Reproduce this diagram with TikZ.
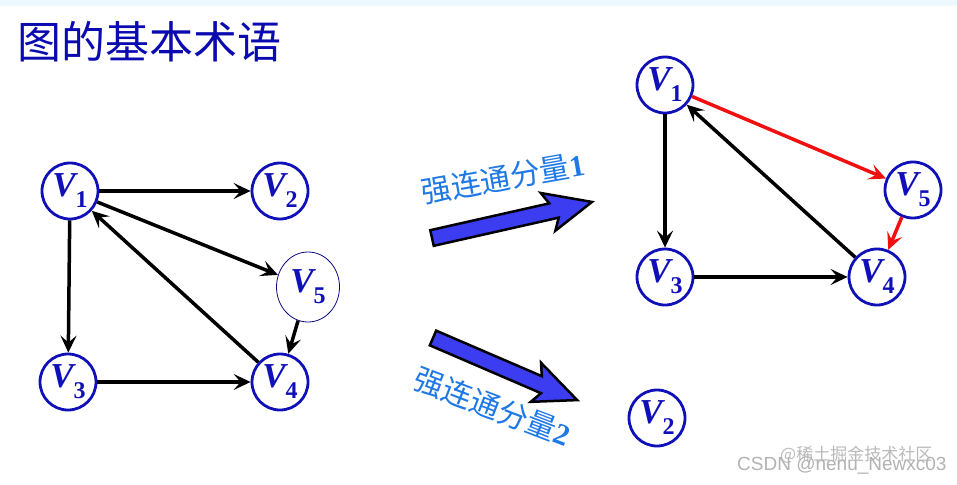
\documentclass[tikz,border=0pt]{standalone}
\usepackage{fontspec}
\setmainfont{Liberation Serif}
\setsansfont{Liberation Sans}
\newfontfamily\cjk{Noto Sans CJK SC}
\usetikzlibrary{arrows.meta,shapes.geometric}
\definecolor{nodeblue}{HTML}{1010B8}
\definecolor{txtblue}{HTML}{0A0AB0}
\definecolor{lblue}{HTML}{1E78E6}
\definecolor{arrfill}{HTML}{3C3CF0}
\definecolor{redarr}{HTML}{F01010}
\newcommand\vlab[1]{{\fontsize{35}{35}\selectfont\bfseries\itshape V}\kern0pt\raisebox{-11pt}{\fontsize{24}{24}\selectfont\bfseries #1}}
\tikzset{
  vnode/.style={circle, draw=nodeblue, line width=2.8pt, minimum size=56pt, inner sep=0pt, text=nodeblue},
  conn/.style={line width=3.5pt, -{Stealth[length=17pt,width=16pt,inset=7pt]}},
  redconn/.style={conn, draw=redarr},
  bigarrow/.style={fill=arrfill, draw=black, line width=2.5pt, line join=miter},
  cmplabel/.style={text=lblue, font=\cjk\fontsize{30}{30}\selectfont, inner sep=0pt}
}
\begin{document}
\begin{tikzpicture}[x=1pt,y=-1pt]
\useasboundingbox (0,0) rectangle (957,484);
\fill[cyan!7] (0,0) rectangle (957,6);
% title
\node[anchor=west, text=txtblue, font=\cjk\fontsize{44}{44}\selectfont, inner sep=0pt] (title) at (17,42) {图的基本术语};
% left graph
\node[vnode] (a1) at (70,191) {\vlab{1}};
\node[vnode] (a2) at (280,191) {\vlab{2}};
\node[vnode] (a3) at (68,382) {\vlab{3}};
\node[vnode] (a4) at (280,382) {\vlab{4}};
\node[ellipse, draw=nodeblue!70!black, line width=0.8pt, minimum width=63pt, minimum height=70pt, inner sep=0pt, text=nodeblue] (a5) at (308,287) {\vlab{5}};
\draw[conn] (a1) -- (a2);
\draw[conn] (a1) -- (a3);
\draw[conn] (a3) -- (a4);
\draw[conn] (a1) -- (a5);
\draw[conn] (a4) -- (a1);
\draw[conn] (a5) -- (a4);
% block arrows
\begin{scope}[shift={(432,238)}, rotate=12.7]
\draw[bigarrow] (0,-8) -- (122,-8) -- (116,-20) -- (164,0) -- (122,20) -- (128,8) -- (0,8) -- cycle;
\end{scope}
\begin{scope}[shift={(433,338)}, rotate=-23.3]
\draw[bigarrow] (0,-8) -- (115,-8) -- (109,-20) -- (157,0) -- (115,20) -- (121,8) -- (0,8) -- cycle;
\end{scope}
\node[cmplabel, rotate=10] (l1) at (503,178) {强连通分量{\rmfamily\bfseries 1}};
\node[cmplabel, rotate=-21] (l2) at (493,407) {强连通分量{\rmfamily\bfseries 2}};
% right graph
\node[vnode] (b1) at (665,85) {\vlab{1}};
\node[vnode] (b5) at (913,190) {\vlab{5}};
\node[vnode] (b3) at (665,277) {\vlab{3}};
\node[vnode] (b4) at (877,277) {\vlab{4}};
\node[vnode] (b2) at (657,418) {\vlab{2}};
\draw[redconn] (b1) -- (b5);
\draw[redconn] (b5) -- (b4);
\draw[conn] (b1) -- (b3);
\draw[conn] (b3) -- (b4);
\draw[conn] (b4) -- (b1);
% watermark
\node[text=gray!55, font=\cjk\fontsize{17}{17}\selectfont, inner sep=0pt, anchor=west] (wm1) at (780,455) {@稀土掘金技术社区};
\node[text=gray!60, font=\sffamily\fontsize{19}{19}\selectfont, inner sep=0pt, anchor=west] (wm2) at (737,465) {CSDN @nenu\_Newxc03};
\end{tikzpicture}
\end{document}
